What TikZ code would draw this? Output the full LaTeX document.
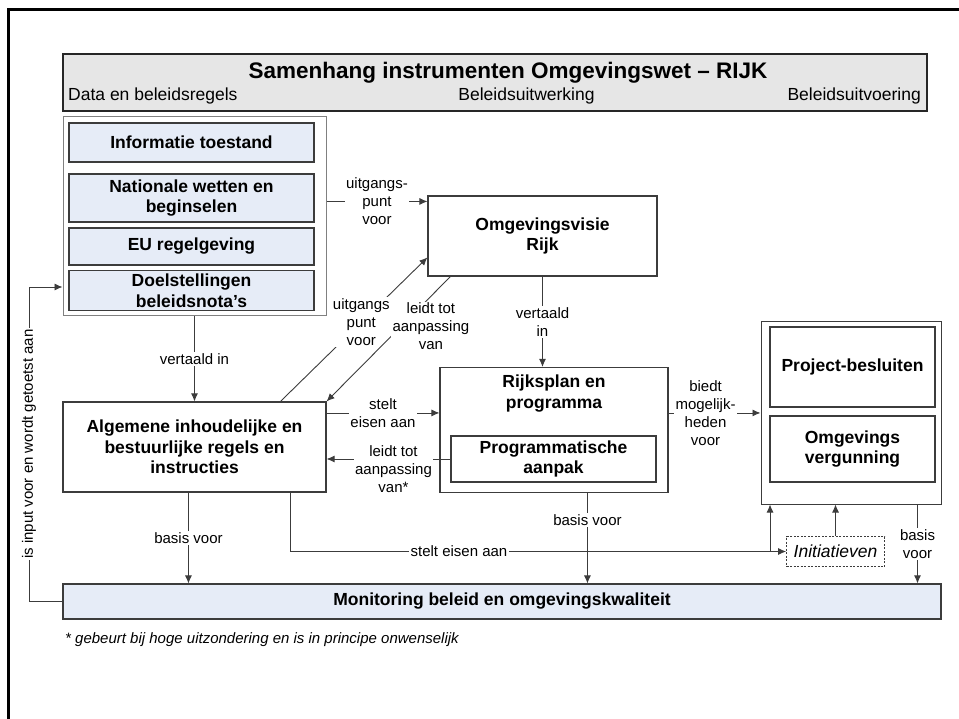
\documentclass[tikz,border=0pt]{standalone}
\usepackage{fontspec}
\setmainfont{Liberation Sans}
\usetikzlibrary{arrows.meta, calc}

\definecolor{lichtblauw}{HTML}{E6ECF7}
\definecolor{kopgrijs}{HTML}{E6E6E6}
\definecolor{lijn}{HTML}{3C3C3C}

\newcommand{\titelfont}{\fontsize{22.5pt}{26pt}\selectfont\bfseries}
\newcommand{\fasefont}{\fontsize{17.5pt}{20pt}\selectfont}
\newcommand{\boxfont}{\fontsize{17.5pt}{20.5pt}\selectfont\bfseries}
\newcommand{\labfont}{\fontsize{15pt}{18pt}\selectfont}
\newcommand{\voetfont}{\fontsize{15pt}{18pt}\selectfont\itshape}

\tikzstyle{kopbox} = [rectangle, draw=black!85, line width=2pt, fill=kopgrijs, minimum width=864pt, minimum height=57pt]
\tikzstyle{kader} = [rectangle, draw=black!50, line width=1pt, fill=white]
\tikzstyle{bronbox} = [rectangle, draw=lijn, line width=1.1pt, fill=lichtblauw, minimum width=245pt, align=center, font=\boxfont]
\tikzstyle{process} = [rectangle, draw=lijn, line width=1.1pt, fill=white, align=center, font=\boxfont]
\tikzstyle{stippel} = [rectangle, draw=lijn, line width=0.8pt, dash pattern=on 2pt off 1.5pt, fill=white, font=\fasefont\itshape]
\tikzstyle{lab} = [fill=white, inner sep=1.5pt, align=center, font=\labfont]
\tikzstyle{arrow} = [line width=0.9pt, draw=lijn, -{Latex[length=8pt,width=7pt]}]

\begin{document}
\begin{tikzpicture}[x=1pt, y=-1pt, node distance=50pt]
	\useasboundingbox (0,0) rectangle (959,719);
	\draw [line width=3pt] (8.5,719) -- (8.5,10) -- (959,10);
	
	% kop
	\node (kop) [kopbox] at (495,82.5) {};
	\node (titel) [font=\titelfont] at (508,73) {Samenhang instrumenten Omgevingswet – RIJK};
	\node (fase1) [font=\fasefont, anchor=west, inner sep=0pt] at (68,96) {Data en beleidsregels};
	\node (fase2) [font=\fasefont, inner sep=0pt] at (526.5,96) {Beleidsuitwerking};
	\node (fase3) [font=\fasefont, anchor=east, inner sep=0pt] at (921,96) {Beleidsuitvoering};
	
	% data en beleidsregels
	\node (bron) [kader, minimum width=263pt, minimum height=199pt] at (194.5,216.5) {};
	\node (info) [bronbox, minimum height=39pt] at (191.5,142.5) {Informatie toestand};
	\node (wetten) [bronbox, minimum height=48pt, below of=info, yshift=-5.5pt] {Nationale wetten en\\beginselen};
	\node (eu) [bronbox, minimum height=37pt, below of=wetten, yshift=1.5pt] {EU regelgeving};
	\node (doel) [bronbox, minimum height=39pt, below of=eu, yshift=6pt] {Doelstellingen\\beleidsnota’s};
	
	% beleidsuitwerking
	\node (visie) [process, minimum width=229pt, minimum height=80pt] at (542.5,236) {Omgevingsvisie\\Rijk};
	\node (alg) [process, minimum width=263pt, minimum height=90pt] at (194.5,447) {Algemene inhoudelijke en\\bestuurlijke regels en\\instructies};
	\node (plan) [process, minimum width=228pt, minimum height=125pt] at (554,430) {};
	\node (plantekst) [font=\boxfont, align=center] at (554,393.5) {Rijksplan en\\programma};
	\node (prog) [process, minimum width=205pt, minimum height=46pt] at (553.5,459) {Programmatische\\aanpak};
	
	% beleidsuitvoering
	\node (uitv) [kader, draw=lijn, minimum width=180pt, minimum height=182pt] at (851,413) {};
	\node (besluit) [process, minimum width=165pt, minimum height=80pt] at (852.5,367) {Project-besluiten};
	\node (vergunning) [process, minimum width=165pt, minimum height=66pt, below of=besluit, yshift=-32pt] {Omgevings\\vergunning};
	\node (init) [stippel, minimum width=98pt, minimum height=30pt] at (835.5,551.5) {Initiatieven};
	
	\node (monitor) [bronbox, minimum width=878pt, minimum height=35pt] at (502,601.5) {Monitoring beleid en omgevingskwaliteit};
	\node (voetnoot) [font=\voetfont, anchor=west, inner sep=0pt] at (65,640) {* gebeurt bij hoge uitzondering en is in principe onwenselijk};
	
	% hulppunten
	\coordinate (in1) at ($(visie.north west)+(0,6)$);
	\coordinate (uit2) at ($(alg.north west)+(218,0)$);
	\coordinate (in2) at ($(visie.north west)+(0,62)$);
	\coordinate (uit3) at ($(visie.south west)+(23,0)$);
	\coordinate (in4) at ($(plan.north west)+(0,46)$);
	\coordinate (uit5) at ($(alg.south west)+(126,0)$);
	\coordinate (uit6) at ($(alg.south west)+(228,0)$);
	\coordinate (tak) at ($(uitv.south west)+(9.5,0)$);
	\coordinate (uit7) at ($(plan.south west)+(148,0)$);
	\coordinate (uit8) at ($(uitv.south west)+(157,0)$);
	\coordinate (terug) at (29,287);
	
	\draw [arrow] (in1 -| bron.east) -- node[lab]{uitgangs-\\punt\\voor} (in1);
	\draw [arrow] (uit2) -- node[lab, pos=0.55]{uitgangs\\punt\\voor} (in2);
	\draw [arrow] (uit3) -- node[lab, pos=0.4, xshift=30pt]{leidt tot\\aanpassing\\van} (alg.north east);
	\draw [arrow] (visie.south) -- node[lab]{vertaald\\in} (visie.south |- plan.north);
	\draw [arrow] (bron) -- node[lab]{vertaald in} (alg);
	\draw [arrow] (in4 -| alg.east) -- node[lab]{stelt\\eisen aan} (in4);
	\draw [arrow] (prog.west) -- node[lab, xshift=5pt, yshift=-10pt]{leidt tot\\aanpassing\\van*} (prog.west -| alg.east);
	\draw [arrow] (in4 -| plan.east) -- node[lab, xshift=-9pt]{biedt\\mogelijk-\\heden\\voor} (in4 -| uitv.west);
	\draw [arrow] (uit5) -- node[lab]{basis voor} (uit5 |- monitor.north);
	\draw [arrow] (uit6) |- node[lab, pos=0.67]{stelt eisen aan} (init.west);
	\draw [arrow] (tak |- init.west) -- (tak);
	\draw [arrow] (init) -- (init |- uitv.south);
	\draw [arrow] (uit7) -- node[lab, pos=0.3]{basis voor} (uit7 |- monitor.north);
	\draw [arrow] (uit8) -- node[lab]{basis\\voor} (uit8 |- monitor.north);
	\draw [arrow] (monitor.west) -| node[lab, rotate=90, pos=0.75]{is input voor en wordt getoetst aan} (terug) -- (terug -| bron.west);
	
\end{tikzpicture}
\end{document}
